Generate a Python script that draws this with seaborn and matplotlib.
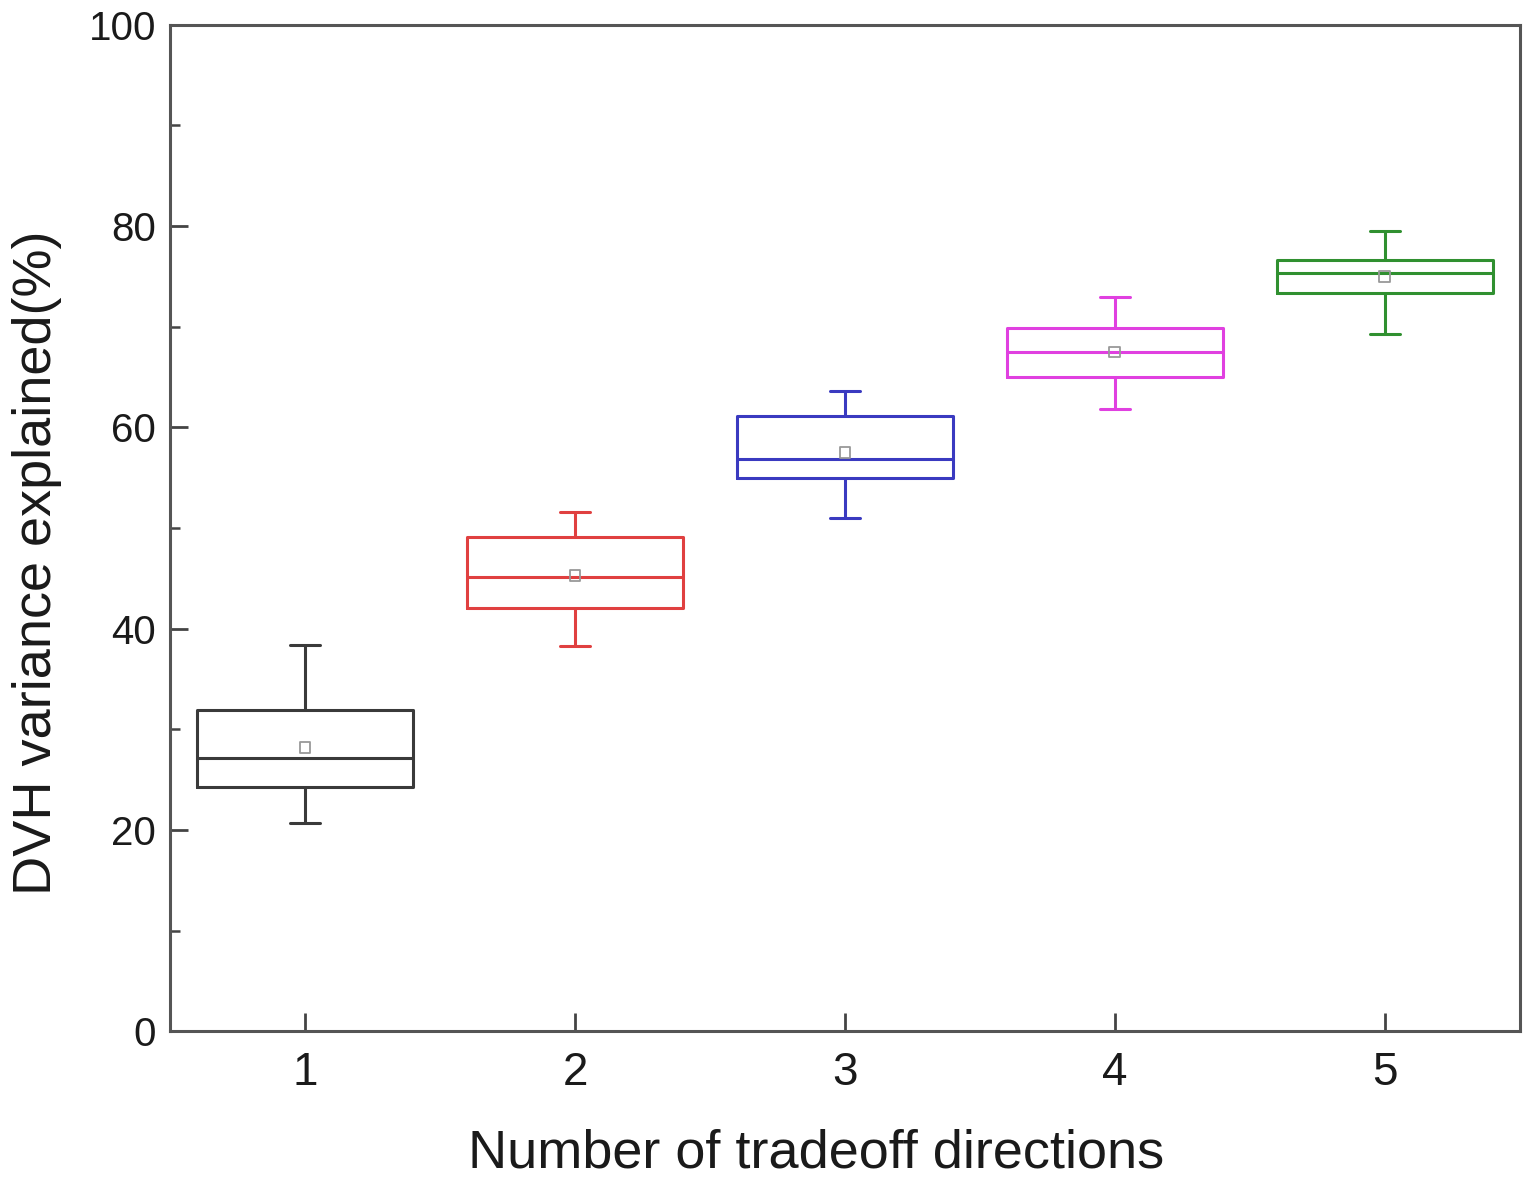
import numpy as np
import pandas as pd
import matplotlib
matplotlib.use("Agg")
import matplotlib.pyplot as plt
import seaborn as sns
from matplotlib.ticker import MultipleLocator

# values (percent)
directions = ["1", "2", "3", "4", "5"]
whisker_low = [20.7, 38.3, 51.0, 61.8, 69.3]
q1 = [24.3, 42.1, 55.0, 65.0, 73.4]
median = [27.2, 45.1, 56.9, 67.5, 75.3]
q3 = [31.9, 49.1, 61.1, 69.9, 76.6]
whisker_high = [38.4, 51.6, 63.6, 73.0, 79.5]
means = [28.2, 45.3, 57.5, 67.5, 75.0]
colors = ["#3a3a3a", "#e04040", "#3a3ac0", "#e040e0", "#309030"]

rows = []
for i, d in enumerate(directions):
    for v in [whisker_low[i], q1[i], median[i], q3[i], whisker_high[i]]:
        rows.append({"n": d, "val": v})
df = pd.DataFrame(rows)

sns.set_style("ticks")
plt.rcParams["font.family"] = ["Liberation Sans", "DejaVu Sans"]

fig = plt.figure(figsize=(15.32, 11.8), dpi=100)
ax = fig.add_axes([0.111, 0.126, 0.881, 0.853])

sns.boxplot(data=df, x="n", y="val", hue="n", palette=colors, fill=False,
            whis=np.inf, width=0.8, linewidth=2.2, legend=False,
            capwidths=0.11, ax=ax)

# mean markers
ax.scatter(range(len(directions)), means, marker="s", s=60,
           facecolors="none", edgecolors="#999999", linewidths=1.3, zorder=5)

ax.set_xlim(-0.5, 4.5)
ax.set_ylim(0, 100)
ax.yaxis.set_major_locator(MultipleLocator(20))
ax.yaxis.set_minor_locator(MultipleLocator(10))

for s in ax.spines.values():
    s.set_visible(True)
    s.set_color("#555555")
    s.set_linewidth(2.2)

ax.tick_params(axis="both", which="major", direction="in", length=13,
               width=2, color="#444444", labelcolor="#1a1a1a")
ax.tick_params(axis="y", which="minor", direction="in", length=7,
               width=1.8, color="#444444")
ax.tick_params(axis="x", labelsize=33, pad=14)
ax.tick_params(axis="y", labelsize=29, pad=10)

ax.set_xlabel("Number of tradeoff directions", fontsize=39, color="#1a1a1a")
ax.set_ylabel("DVH variance explained(%)", fontsize=39, color="#1a1a1a")
ax.xaxis.set_label_coords(0.479, -0.097)
ax.yaxis.set_label_coords(-0.08, 0.466)

fig.savefig("out.png", dpi=100)
